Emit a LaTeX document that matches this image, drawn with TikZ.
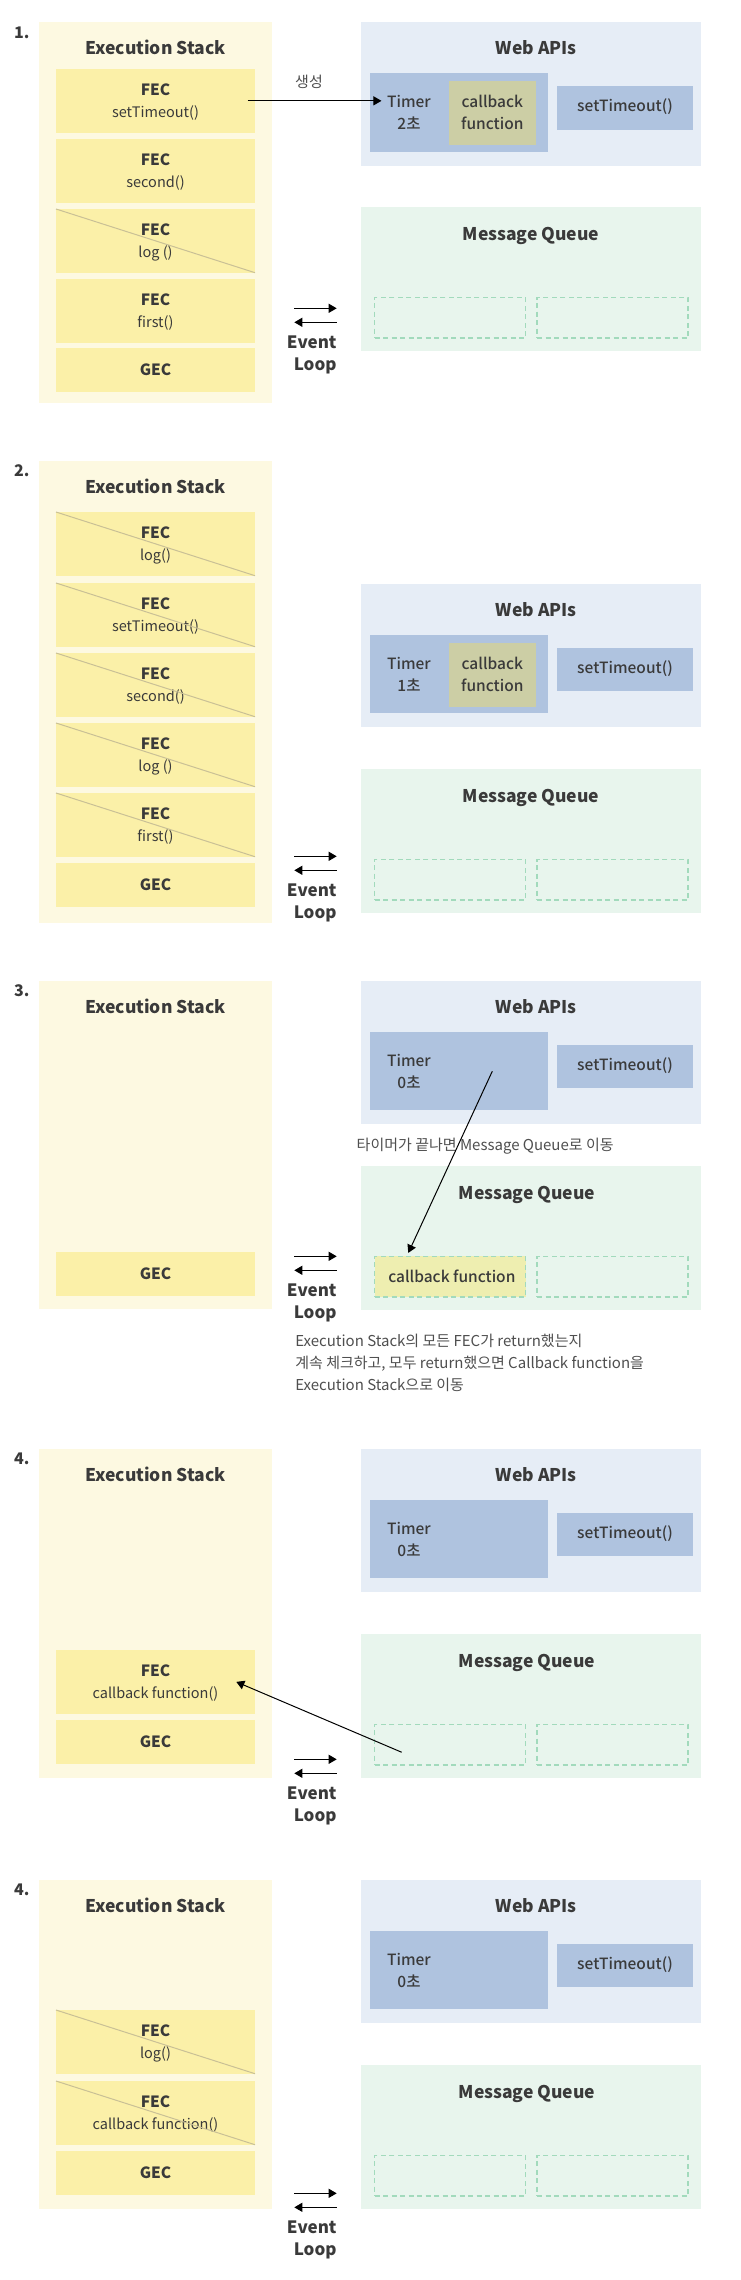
\documentclass[tikz,border=0pt]{standalone}
\usepackage{fontspec}
\setmainfont{Noto Sans CJK KR}
\newfontfamily\medfont{Noto Sans CJK KR Medium}
\usetikzlibrary{arrows.meta}
\definecolor{stackbg}{HTML}{FDF9E1}
\definecolor{fecfill}{HTML}{FBF0A8}
\definecolor{wabg}{HTML}{E6EDF6}
\definecolor{timerfill}{HTML}{AFC3DF}
\definecolor{cbfill}{HTML}{CCCEA5}
\definecolor{mqbg}{HTML}{E8F5ED}
\definecolor{slotline}{HTML}{A2DABC}
\definecolor{cbq}{HTML}{EEEEB0}
\definecolor{strikec}{HTML}{C9C096}
\definecolor{txtc}{HTML}{3A3A3A}
\definecolor{notec}{HTML}{4F4F4F}

\newcommand{\stackpanel}[5]{% id, top, bottom, number, title y
  \node[stackbox, minimum height={(#3-#2)*1pt}] (es#1) at (155.5,{(#2+#3)/2}) {};
  \node[ttl] (est#1) at (155.5,#5) {Execution Stack};
  \node[numl] (num#1) at (21.7,{#2+10}) {#4};
}
\newcommand{\fec}[4]{% name, top, label, struck
  \node[fecbox, minimum height=63.7pt] (#1) at (155.5,{#2+31.85}) {};
  \node[lblb] (#1f) at (155.5,{#2+21}) {FEC};
  \node[lbl] (#1s) at (155.5,{#2+43.3}) {#3};
  \ifnum#4=1 \draw[strike] (#1.north west) -- (#1.south east);\fi
}
\newcommand{\gec}[2]{% name, top
  \node[fecbox, minimum height=43.7pt] (#1) at (155.5,{#2+21.85}) {};
  \node[lblb] (#1t) at (155.5,{#2+21.5}) {GEC};
}
\newcommand{\rightside}[7]{% id, WA top, timer value, has cb, MQ top, MQ title x, slot style
  \node[wabox] (wa#1) at (531,{#2+71.7}) {};
  \node[ttl] (wat#1) at (536.3,{#2+26}) {Web APIs};
  \node[timerbox] (tb#1) at (459,{#2+90.25}) {};
  \node[lblm] (tm#1) at (409,{#2+79.7}) {Timer};
  \node[lblm] (tv#1) at (409,{#2+101.7}) {#3};
  \ifnum#4=1
    \node[cbbox] (cb#1) at (492.3,{#2+90.85}) {};
    \node[lblm] (cba#1) at (492.3,{#2+79.7}) {callback};
    \node[lblm] (cbb#1) at (492.3,{#2+101.7}) {function};
  \fi
  \node[stbox] (st#1) at (624.85,{#2+85.55}) {};
  \node[lblm] (stt#1) at (625,{#2+84}) {setTimeout()};
  \node[mqbox] (mq#1) at (531,{#5+71.85}) {};
  \node[ttl] (mqt#1) at (#6,{#5+27.3}) {Message Queue};
  \node[slot,#7] (qa#1) at (450.2,{#5+110.65}) {};
  \node[slot] (qb#1) at (612.5,{#5+110.65}) {};
}
\newcommand{\evloop}[3]{% id, arrow y, Event y
  \coordinate (ela#1) at (294.3,#2);
  \coordinate (elb#1) at (336.7,#2);
  \coordinate (elc#1) at (336.7,{#2+14});
  \coordinate (eld#1) at (294.3,{#2+14});
  \draw[arr] (ela#1) -- (elb#1);
  \draw[arr] (elc#1) -- (eld#1);
  \node[evl] (ev#1) at (336.5,#3) {Event};
  \node[evl] (lp#1) at (336.5,{#3+22}) {Loop};
}

\begin{document}
\begin{tikzpicture}[x=1pt,y=-1pt,
  box/.style={rectangle, inner sep=0pt, outer sep=0pt, draw=none},
  stackbox/.style={box, fill=stackbg, minimum width=233pt},
  fecbox/.style={box, fill=fecfill, minimum width=199pt},
  wabox/.style={box, fill=wabg, minimum width=340pt, minimum height=143.4pt},
  mqbox/.style={box, fill=mqbg, minimum width=340pt, minimum height=143.7pt},
  timerbox/.style={box, fill=timerfill, minimum width=178pt, minimum height=78.4pt},
  cbbox/.style={box, fill=cbfill, minimum width=86.7pt, minimum height=63.7pt},
  stbox/.style={box, fill=timerfill, minimum width=135.7pt, minimum height=43.7pt},
  slot/.style={box, draw=slotline, line width=1.5pt, dash pattern=on 5pt off 3.5pt, minimum width=151pt, minimum height=40.7pt},
  txt/.style={inner sep=0pt, outer sep=0pt, text=txtc, text depth=0pt},
  ttl/.style={txt, font=\bfseries\fontsize{17.5}{20}\selectfont, text height=12.8pt},
  numl/.style={txt, font=\bfseries\fontsize{16}{19}\selectfont, text height=11.7pt},
  lblb/.style={txt, font=\bfseries\fontsize{15.5}{18}\selectfont, text height=11.4pt},
  lblm/.style={txt, font=\medfont\fontsize{15.5}{18}\selectfont, text height=11.4pt},
  lbl/.style={txt, font=\fontsize{14.5}{17}\selectfont, text height=10.6pt},
  evl/.style={txt, anchor=east, font=\bfseries\fontsize{17}{20}\selectfont, text height=12.5pt},
  note/.style={txt, text=notec, font=\fontsize{15}{18}\selectfont, text height=11pt},
  arr/.style={-{Triangle[length=8pt,width=9pt]}, line width=1pt, black},
  strike/.style={draw=strikec, line width=1pt}]
\useasboundingbox[fill=white] (0,0) rectangle (740,2280);

% ---------------- Panel 1 ----------------
\stackpanel{1}{22.3}{403.3}{1.}{48.3}
\fec{a1}{69}{setTimeout()}{0}
\fec{a2}{139}{second()}{0}
\fec{a3}{209}{log ()}{1}
\fec{a4}{279}{first()}{0}
\gec{g1}{348}
\rightside{1}{22.3}{2초}{1}{207}{531}{}
\draw[arr] ([xshift=-7.3pt]a1.east) -- ([xshift=-5.7pt]tm1.west |- a1.east);
\node[note] (mk1) at (309,81.7) {생성};
\evloop{1}{308.3}{342.3}

% ---------------- Panel 2 ----------------
\stackpanel{2}{461}{923.3}{2.}{487}
\fec{b1}{512}{log()}{1}
\fec{b2}{583}{setTimeout()}{1}
\fec{b3}{653}{second()}{1}
\fec{b4}{723}{log ()}{1}
\fec{b5}{793}{first()}{1}
\gec{g2}{863}
\rightside{2}{584}{1초}{1}{769}{531}{}
\evloop{2}{856.3}{890.3}

% ---------------- Panel 3 ----------------
\stackpanel{3}{981}{1309.3}{3.}{1007}
\gec{g3}{1252}
\rightside{3}{981}{0초}{0}{1166}{527}{fill=cbq}
\node[lblm, anchor=west] (cq3) at (388.3,1277) {callback function};
\node[note, anchor=west] (tn3) at (356.7,1144.7) {타이머가 끝나면 Message Queue로 이동};
\draw[arr] ([xshift=33.3pt]tb3.center) -- ([xshift=-41.9pt,yshift=3.4pt]qa3.north);
\evloop{3}{1256.3}{1290.3}
\node[note, anchor=west] (na3) at (295.3,1341) {Execution Stack의 모든 FEC가 return했는지};
\node[note, anchor=west] (nb3) at (295.3,1362.7) {계속 체크하고, 모두 return했으면 Callback function을};
\node[note, anchor=west] (nc3) at (295.3,1385) {Execution Stack으로 이동};

% ---------------- Panel 4 ----------------
\stackpanel{4}{1449}{1777.7}{4.}{1475}
\fec{d1}{1650}{callback function()}{0}
\gec{g4}{1720}
\rightside{4}{1449}{0초}{0}{1634}{527}{}
\draw[arr] ([xshift=-48.5pt,yshift=-7.6pt]qa4.center) -- ([xshift=-18.7pt]d1.east);
\evloop{4}{1759.3}{1793.3}

% ---------------- Panel 5 ----------------
\stackpanel{5}{1880}{2208.7}{4.}{1906}
\fec{e1}{2010}{log()}{1}
\fec{e2}{2081}{callback function()}{1}
\gec{g5}{2151}
\rightside{5}{1880}{0초}{0}{2065}{527}{}
\evloop{5}{2193.3}{2227.3}
\end{tikzpicture}
\end{document}
